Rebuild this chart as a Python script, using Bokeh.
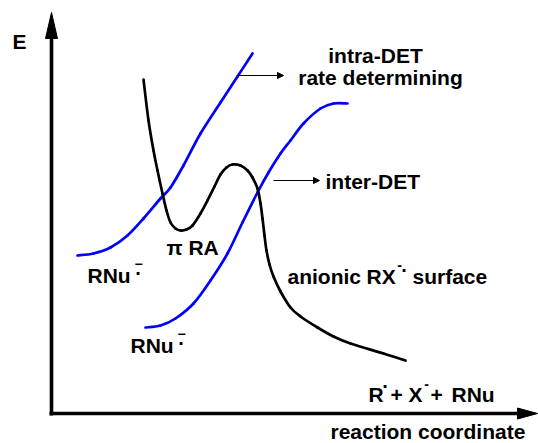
from bokeh.plotting import figure
from bokeh.models import Range1d, Arrow, NormalHead
from bokeh.core.properties import value
from bokeh.embed import file_html
from bokeh.resources import INLINE

# ---- data (diagram coordinates, y grows downward) ----
blue1_x = [77, 93, 110, 127, 143, 160, 170, 183, 200, 220, 237, 252]
blue1_y = [255, 253, 247, 235, 218, 198, 187, 165, 133, 102, 76, 53]

blue2_x = [145, 160, 175, 193, 210, 227, 242, 257, 268, 280, 290, 303, 320, 333, 347]
blue2_y = [327, 325, 318, 303, 280, 253, 222, 192, 172, 153, 140, 123, 108, 103, 103]

black_x = [143, 148, 153, 157, 162, 166, 170, 175, 180, 186, 192, 200, 207, 214, 220, 226,
           232, 240, 247, 252, 257, 260, 262, 264, 266, 269, 273, 280, 290, 300, 317, 333,
           350, 383, 405]
black_y = [79, 120, 150, 170, 193, 210, 222, 228, 230, 229, 225, 213, 200, 186, 174, 167,
           164, 165, 170, 177, 188, 203, 218, 235, 250, 264, 276, 291, 307, 316, 327, 336,
           343, 353, 360]

yaxis_x = [51, 51]
yaxis_y = [415, 30]
yhead_x = [51, 45, 57]
yhead_y = [12, 38, 38]
xaxis_x = [49, 522]
xaxis_y = [413, 413]
xhead_x = [537, 517, 517]
xhead_y = [413, 407.5, 418.5]

FONT = value("Liberation Sans")

p = figure(width=538, height=443, output_backend="svg", toolbar_location=None,
           x_range=Range1d(0, 538), y_range=Range1d(443, 0),
           x_axis_location=None, y_axis_location=None, min_border=0)
p.grid.visible = False
p.outline_line_color = None
p.background_fill_color = "white"


def smooth(xs, ys, color):
    # Catmull-Rom through the read points, drawn as cubic Bezier segments
    n = len(xs)
    x0, y0, x1, y1, cx0, cy0, cx1, cy1 = [], [], [], [], [], [], [], []
    for i in range(n - 1):
        a = max(i - 1, 0)
        b = min(i + 2, n - 1)
        x0.append(xs[i]); y0.append(ys[i])
        x1.append(xs[i + 1]); y1.append(ys[i + 1])
        cx0.append(xs[i] + (xs[i + 1] - xs[a]) / 6.0)
        cy0.append(ys[i] + (ys[i + 1] - ys[a]) / 6.0)
        cx1.append(xs[i + 1] - (xs[b] - xs[i]) / 6.0)
        cy1.append(ys[i + 1] - (ys[b] - ys[i]) / 6.0)
    p.bezier(x0=x0, y0=y0, x1=x1, y1=y1, cx0=cx0, cy0=cy0, cx1=cx1, cy1=cy1,
             line_width=2.7, line_color=color, line_cap="round")


# axes
p.line(yaxis_x, yaxis_y, line_width=3.6, color="black")
p.patch(yhead_x, yhead_y, color="black")
p.line(xaxis_x, xaxis_y, line_width=3.6, color="black")
p.patch(xhead_x, xhead_y, color="black")

# curves
smooth(blue1_x, blue1_y, "#0000ff")
smooth(blue2_x, blue2_y, "#0000ff")
smooth(black_x, black_y, "black")

# pointer arrows
p.add_layout(Arrow(end=NormalHead(size=6, fill_color="black", line_color="black"),
                   x_start=237, y_start=75, x_end=283, y_end=75, line_width=1.2))
p.add_layout(Arrow(end=NormalHead(size=6, fill_color="black", line_color="black"),
                   x_start=273, y_start=180, x_end=319, y_end=180, line_width=1.2))


def txt(x, y, s, size="21px", align="left", baseline="alphabetic"):
    p.text(x=[x], y=[y], text=[s], text_font=FONT, text_font_style="bold",
           text_font_size=size, text_align=align, text_baseline=baseline, text_color="black")


txt(12, 41, "E")
txt(375, 55, "intra-DET", align="center")
txt(380, 77, "rate determining", align="center")
txt(325, 181, "inter-DET")
txt(166, 247, "\u03c0 RA")

txt(87, 275, "RNu")
txt(138, 263, "\u2212", size="14px", align="center", baseline="middle")
txt(138, 272, "\u00b7", size="20px", align="center", baseline="middle")
txt(130, 345, "RNu")
txt(181, 333, "\u2212", size="14px", align="center", baseline="middle")
txt(181, 342, "\u00b7", size="20px", align="center", baseline="middle")

txt(287, 276, "anionic")
txt(366, 276, "RX")
txt(399, 264, "-", size="14px", align="center", baseline="middle")
txt(404, 269, "\u00b7", size="20px", align="center", baseline="middle")
txt(412, 276, "surface")

txt(368, 394, "R")
txt(385, 385, "\u00b7", size="20px", align="center", baseline="middle")
txt(390, 394, "+ X")
txt(426, 383, "-", size="14px", align="center", baseline="middle")
txt(430, 394, "+")
txt(451, 394, "RNu")

txt(330, 431, "reaction coordinate")

open("out.html", "w").write(file_html(p, INLINE))
